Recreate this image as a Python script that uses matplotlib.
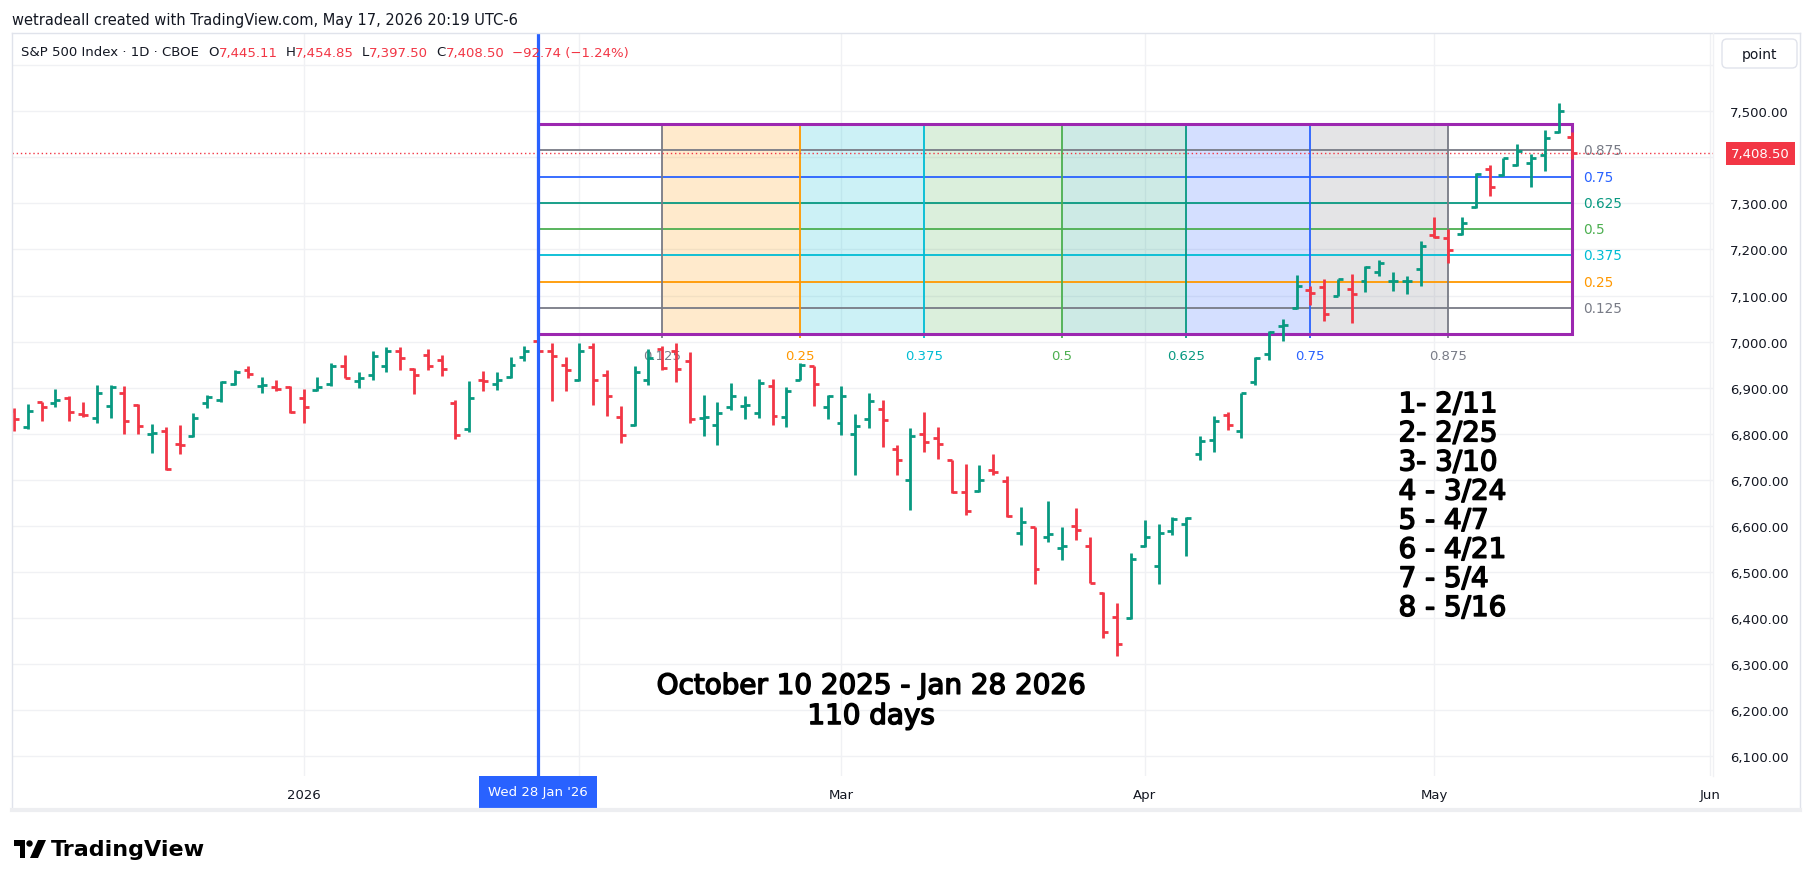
import numpy as np
import matplotlib.pyplot as plt
import matplotlib.patheffects as pe
from matplotlib.collections import LineCollection
from matplotlib.patches import Rectangle, FancyBboxPatch, Polygon, Circle
from matplotlib.transforms import IdentityTransform

plt.rcParams['font.family'] = ['DejaVu Sans']

# daily bars of S&P 500, bar index 0 = Wed 28 Jan '26 (last bar = Fri 15 May '26)
first_bar = -38
opens = [6850, 6815, 6868, 6866, 6877, 6843, 6835, 6861, 6888, 6862,
         6800, 6805, 6778, 6795, 6866, 6873, 6908, 6938, 6904, 6901,
         6902, 6878, 6894, 6908, 6946, 6915, 6928, 6946, 6979, 6940,
         6970, 6961, 6866, 6811, 6916, 6909, 6924, 6967, 7002,
         6979, 6949, 6917, 6988, 6927, 6836, 6818, 6917, 6985, 6979,
         6959, 6835, 6819, 6857, 6860, 6844, 6904, 6836, 6917, 6946,
         6857, 6824, 6800, 6833, 6853, 6766, 6699, 6799, 6791, 6742,
         6673, 6675, 6722, 6697, 6584, 6597, 6576, 6553, 6599, 6557,
         6455, 6403, 6399, 6557, 6513, 6588, 6604, 6755, 6787, 6840,
         6807, 6912, 6973, 7033, 7072, 7113, 7119, 7100, 7114, 7131,
         7151, 7131, 7131, 7158, 7232, 7224, 7233, 7293, 7375, 7362,
         7384, 7388, 7405, 7455, 7445.11]
highs = [6855, 6865, 6870, 6898, 6881, 6868, 6905, 6906, 6903, 6865,
         6822, 6815, 6820, 6844, 6885, 6914, 6939, 6948, 6924, 6916,
         6904, 6898, 6924, 6953, 6970, 6935, 6980, 6989, 6989, 6943,
         6983, 6970, 6874, 6914, 6937, 6935, 6967, 6991, 7004,
         6996, 6967, 6996, 6996, 6939, 6860, 6948, 6984, 6990, 6996,
         6977, 6884, 6870, 6911, 6882, 6919, 6919, 6902, 6953, 6948,
         6884, 6904, 6842, 6889, 6873, 6775, 6813, 6848, 6815, 6743,
         6735, 6733, 6756, 6708, 6640, 6598, 6655, 6598, 6638, 6576,
         6457, 6432, 6542, 6613, 6605, 6620, 6620, 6796, 6838, 6848,
         6889, 6967, 7022, 7049, 7145, 7120, 7136, 7136, 7146, 7165,
         7178, 7151, 7142, 7218, 7271, 7245, 7271, 7366, 7384, 7399,
         7428, 7408, 7459, 7518, 7454.85]
lows = [6805, 6810, 6827, 6857, 6827, 6837, 6824, 6834, 6800, 6800,
        6759, 6721, 6757, 6793, 6856, 6868, 6906, 6921, 6888, 6893,
        6845, 6823, 6892, 6903, 6920, 6899, 6917, 6935, 6938, 6886,
        6938, 6925, 6788, 6804, 6893, 6896, 6922, 6959, 6966,
        6871, 6893, 6915, 6863, 6839, 6779, 6817, 6906, 6939, 6913,
        6823, 6795, 6775, 6851, 6833, 6835, 6819, 6815, 6917, 6860,
        6833, 6797, 6710, 6813, 6771, 6710, 6635, 6760, 6745, 6671,
        6623, 6673, 6711, 6620, 6559, 6473, 6565, 6526, 6569, 6475,
        6356, 6317, 6397, 6555, 6473, 6581, 6535, 6742, 6761, 6809,
        6791, 6906, 6961, 7002, 7071, 7079, 7045, 7100, 7041, 7107,
        7142, 7109, 7103, 7120, 7226, 7171, 7231, 7291, 7317, 7360,
        7381, 7335, 7371, 7453, 7397.50]
closes = [6832, 6850, 6858, 6873, 6848, 6841, 6888, 6902, 6828, 6817,
          6802, 6723, 6776, 6835, 6879, 6913, 6934, 6930, 6905, 6898,
          6848, 6858, 6902, 6946, 6922, 6922, 6968, 6979, 6965, 6928,
          6946, 6941, 6798, 6877, 6915, 6917, 6950, 6980, 6979,
          6969, 6939, 6979, 6917, 6882, 6797, 6935, 6964, 6942, 6940,
          6833, 6836, 6844, 6882, 6862, 6911, 6839, 6892, 6949, 6908,
          6881, 6882, 6817, 6871, 6830, 6742, 6796, 6783, 6777, 6673,
          6633, 6700, 6717, 6622, 6608, 6507, 6582, 6557, 6592, 6477,
          6370, 6344, 6529, 6576, 6584, 6615, 6618, 6784, 6827, 6818,
          6889, 6964, 7020, 7036, 7120, 7106, 7060, 7135, 7103, 7162,
          7170, 7132, 7132, 7207, 7227, 7198, 7257, 7364, 7335, 7398,
          7413, 7398, 7442, 7501.24, 7408.50]

# time axis (bar index of first session of each month)
grid_bars = [-17, 3, 22, 44, 65, 85]
grid_labels = ['2026', '', 'Mar', 'Apr', 'May', 'Jun']
price_ticks = list(range(6100, 7700, 100))

# gann box
box_start, box_end = 0, 75
box_low, box_high = 7016, 7472
levels = [0.125, 0.25, 0.375, 0.5, 0.625, 0.75, 0.875]
level_labels = ['0.125', '0.25', '0.375', '0.5', '0.625', '0.75', '0.875']
level_colors = ['#787B86', '#FF9800', '#00BCD4', '#4CAF50', '#089981', '#2962FF', '#787B86']

notes = ['1- 2/11', '2- 2/25', '3- 3/10', '4 - 3/24', '5 - 4/7', '6 - 4/21', '7 - 5/4', '8 - 5/16']

GREEN = '#089981'
RED = '#F23645'
BLUE = '#2962FF'
TXT = '#131722'
GRID = '#F0F1F4'
FRAME = '#E0E3EB'

W, H = 1814, 887
fig = plt.figure(figsize=(W / 100, H / 100), dpi=100)


def fx(px):
    return px / W


def fy(py):
    return 1 - py / H


ax = fig.add_axes([fx(12), fy(777), fx(1713) - fx(12), fy(34) - fy(777)])
ax.set_xlim(-38.15, 85.2)
ax.set_ylim(6057, 7670)
for s in ax.spines.values():
    s.set_visible(False)

# grid
ax.set_yticks(price_ticks)
ax.set_yticklabels(['' if p in (7400, 7600) else f'{p:,.2f}' for p in price_ticks])
ax.yaxis.tick_right()
ax.tick_params(axis='y', length=0, pad=12, labelsize=9.5, labelcolor=TXT)
ax.set_xticks(grid_bars)
ax.set_xticklabels(grid_labels)
ax.tick_params(axis='x', length=0, pad=9, labelsize=9.5, labelcolor=TXT)
ax.grid(True, color=GRID, lw=1, zorder=0)
ax.set_axisbelow(True)

# gann box fills and lines
tx = [box_start + round((box_end - box_start) * lv) for lv in levels]
py = [box_low + (box_high - box_low) * lv for lv in levels]
for i in range(1, len(levels)):
    ax.add_patch(Rectangle((tx[i - 1], box_low), tx[i] - tx[i - 1], box_high - box_low,
                           fc=level_colors[i], alpha=0.2, ec='none', zorder=1))
ax.hlines(py, box_start, box_end, colors=level_colors, lw=1.3, zorder=2)
ax.vlines(tx, box_low - 9, box_high, colors=level_colors, lw=1.3, zorder=2)
ax.add_patch(Rectangle((box_start, box_low), box_end - box_start, box_high - box_low,
                       fill=False, ec='#9C27B0', lw=2.2, zorder=2.5))
for x, lab, col in zip(tx, level_labels, level_colors):
    ax.annotate(lab, (x, box_low), xytext=(0, -15), textcoords='offset points',
                ha='center', va='center', fontsize=9.5, color=col, zorder=2.6)
for y, lab, col in zip(py, level_labels, level_colors):
    ax.annotate(lab, (box_end, y), xytext=(7.5, 0), textcoords='offset points',
                ha='left', va='center', fontsize=9.8, color=col, zorder=2.6)

# ohlc bars
idx = np.arange(first_bar, first_bar + len(opens))
o, h, l, c = (np.array(v, dtype=float) for v in (opens, highs, lows, closes))
tick = 0.36
segs, cols = [], []
for i, x in enumerate(idx):
    col = GREEN if c[i] >= o[i] else RED
    segs += [[(x, l[i]), (x, h[i])], [(x - tick, o[i]), (x, o[i])], [(x, c[i]), (x + tick, c[i])]]
    cols += [col] * 3
ax.add_collection(LineCollection(segs, colors=cols, linewidths=2, capstyle='butt', zorder=3))

# last price line + crosshair line
ax.axhline(c[-1], color=RED, lw=1, ls=(0, (1, 2)), zorder=2.7)
ax.axvline(0, color=BLUE, lw=2.3, zorder=4)

# annotations (semi-bold look)
bold = [pe.withStroke(linewidth=1.1, foreground='black')]
ax.text(62.4, 6643, '\n'.join(notes), fontsize=20, color='black', ha='left', va='center',
        linespacing=1.05, zorder=5, path_effects=bold)
ax.text(24.15, 6220, 'October 10 2025 - Jan 28 2026\n110 days', fontsize=20, color='black',
        ha='center', va='center', multialignment='center', linespacing=1.1, zorder=5,
        path_effects=bold)

# axis labels boxes
ax.annotate(f'{c[-1]:,.2f}', (1, c[-1]), xycoords=('axes fraction', 'data'),
            xytext=(13, 0), textcoords='offset points', ha='left', va='center',
            fontsize=9.5, color='white', annotation_clip=False, zorder=10,
            bbox=dict(boxstyle='square,pad=0.4', fc=RED, ec='none'))
ax.annotate("Wed 28 Jan '26", (0, 0), xycoords=('data', 'axes fraction'),
            xytext=(0, -11.5), textcoords='offset points', ha='center', va='center',
            fontsize=9.5, color='white', annotation_clip=False, zorder=10,
            bbox=dict(boxstyle='square,pad=0.7', fc=BLUE, ec='none'))

# frame of the chart pane
fig.add_artist(plt.Line2D([fx(12), fx(1800)], [fy(34), fy(34)], color=FRAME, lw=1))
fig.add_artist(plt.Line2D([fx(12), fx(12)], [fy(34), fy(811)], color=FRAME, lw=1))
fig.add_artist(plt.Line2D([fx(1800), fx(1800)], [fy(34), fy(811)], color=FRAME, lw=1))
fig.add_artist(plt.Line2D([fx(1713), fx(1713)], [fy(34), fy(777)], color='#F0F1F4', lw=1))
fig.add_artist(plt.Line2D([fx(12), fx(1800)], [fy(811), fy(811)], color='#EDEEF1', lw=3))

# "point" button
fig.add_artist(FancyBboxPatch((1722, H - 69), 75, 29, boxstyle='round,pad=0,rounding_size=5',
                              fc='white', ec=FRAME, lw=1, transform=IdentityTransform()))
fig.text(fx(1759.5), fy(54.5), 'point', fontsize=10, color=TXT, ha='center', va='center')

# header texts
fig.text(fx(12), fy(20), 'wetradeall created with TradingView.com, May 17, 2026 20:19 UTC-6',
         fontsize=10.5, color=TXT, ha='left', va='center')

renderer = fig.canvas.get_renderer()
parts = [('S&P 500 Index · 1D · CBOE', TXT, 9), ('O', TXT, 0), ('7,445.11', RED, 8),
         ('H', TXT, 0), ('7,454.85', RED, 8), ('L', TXT, 0), ('7,397.50', RED, 8),
         ('C', TXT, 0), ('7,408.50', RED, 8), ('−92.74 (−1.24%)', RED, 0)]
xpix = 21
for s, col, gap in parts:
    t = fig.text(fx(xpix), fy(53), s, fontsize=9.5, color=col, ha='left', va='center')
    xpix += t.get_window_extent(renderer=renderer).width + gap

# TradingView logo
fig.add_artist(Polygon([(fx(14), fy(841)), (fx(25), fy(841)), (fx(25), fy(859)), (fx(19.5), fy(859)),
                        (fx(19.5), fy(846.5)), (fx(14), fy(846.5))], closed=True, fc='black', ec='none'))
fig.add_artist(Circle((29.5, H - 844.5), 3.2, fc='black', ec='none', transform=IdentityTransform()))
fig.add_artist(Polygon([(fx(38), fy(841)), (fx(46), fy(841)), (fx(38), fy(859)), (fx(30), fy(859))],
                       closed=True, fc='black', ec='none'))
fig.text(fx(51), fy(850), 'TradingView', fontsize=16, fontweight='bold', color='black',
         ha='left', va='center')

fig.savefig('out.png', dpi=100, facecolor='white')
